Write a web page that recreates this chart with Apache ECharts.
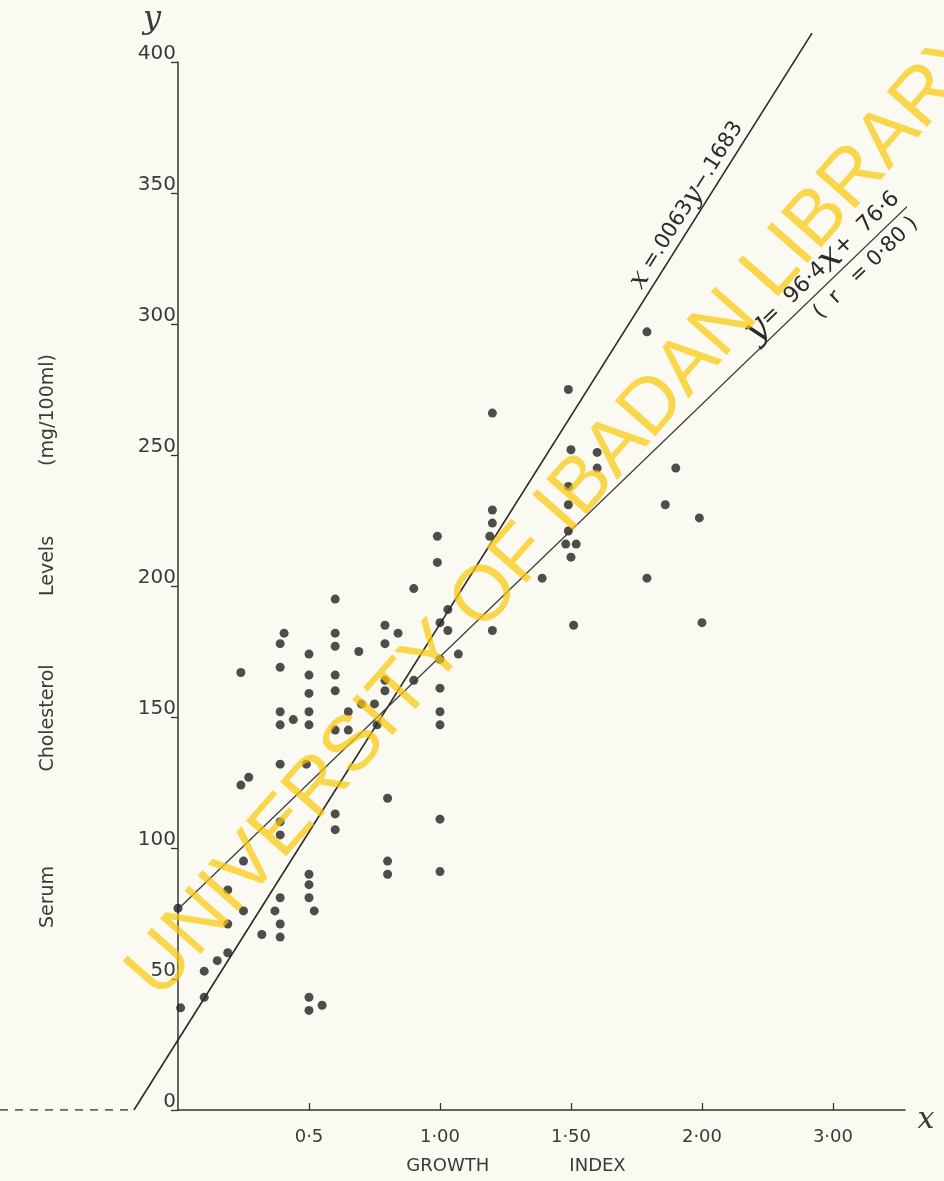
<!DOCTYPE html>
<html>
<head>
<meta charset="utf-8">
<script src="https://cdn.jsdelivr.net/npm/echarts@6/dist/echarts.min.js"></script>
<style>
  html, body {margin: 0; padding: 0; background: #fbfaf2;}
  #chart {width: 944px; height: 1181px;}
</style>
</head>
<body>
<div id="chart"></div>
<script>
// growth index (x) vs serum cholesterol (y)
const points = [
    [0.0, 77], [0.01, 39], [0.1, 53], [0.1, 43], [0.15, 57], [0.19, 60], [0.19, 71], [0.19, 84],
    [0.25, 95], [0.25, 76], [0.24, 124], [0.27, 127], [0.24, 167],
    [0.32, 67], [0.37, 76], [0.39, 81], [0.39, 71], [0.39, 66], [0.39, 105], [0.39, 110],
    [0.39, 132], [0.39, 147], [0.39, 152], [0.39, 169], [0.39, 178], [0.405, 182], [0.44, 149],
    [0.5, 174], [0.5, 166], [0.5, 159], [0.5, 152], [0.5, 147], [0.49, 132], [0.5, 90], [0.5, 86],
    [0.5, 81], [0.52, 76], [0.5, 43], [0.5, 38], [0.55, 40],
    [0.6, 195], [0.6, 182], [0.6, 177], [0.6, 166], [0.6, 160], [0.6, 145], [0.6, 113], [0.6, 107],
    [0.65, 152], [0.65, 145], [0.69, 175], [0.7, 155], [0.75, 155], [0.76, 147],
    [0.79, 185], [0.79, 178], [0.79, 164], [0.79, 160], [0.8, 119], [0.8, 95], [0.8, 90], [0.84, 182],
    [0.9, 199], [0.9, 164],
    [0.99, 219], [0.99, 209], [1.03, 191], [1.0, 186], [1.03, 183], [1.07, 174], [1.0, 172],
    [1.0, 161], [1.0, 152], [1.0, 147], [1.0, 111], [1.0, 91],
    [1.2, 266], [1.2, 229], [1.2, 224], [1.19, 219], [1.2, 183], [1.39, 203],
    [1.49, 275], [1.5, 252], [1.49, 238], [1.49, 231], [1.49, 221], [1.48, 216], [1.52, 216],
    [1.5, 211], [1.51, 185], [1.6, 251], [1.6, 245],
    [1.79, 297], [1.79, 203], [1.86, 231], [1.9, 245], [1.99, 226], [2.0, 186]
];

// y = 96.4x + 76.6  (regression of y on x)
const regYonX = [[0, 76.6], [2.85, 351.3]];
// x = .0063y - .1683  (regression of x on y), split at the y axis
const regXonY = [[0, 26.7], [2.42, 411]];
const regXonYNeg = [[-0.168, 0], [0, 26.7]];
// dashed negative part of the x axis
const negXAxis = [[-0.679, 0], [-0.17, 0]];

const xTickValues = [0.5, 1, 1.5, 2, 2.5];
const xTickText = ['0·5', '1·00', '1·50', '2·00', '3·00'];
const yTickValues = [0, 50, 100, 150, 200, 250, 300, 350, 400];

// y axis title words and where they sit (pixel y of word centre)
const yTitleWords = ['Serum', 'Cholesterol', 'Levels', '(mg/100ml)'];
const yTitleY = [897, 718, 566, 410];

const ink = '#333';
const labelFont = 'DejaVu Sans';
const deg = Math.PI / 180;

let chart = echarts.init(document.getElementById('chart'));

let yTitle = yTitleWords.map((w, i) => {
    return {
        type: 'text', x: 48, y: yTitleY[i], rotation: 90 * deg,
        style: {text: w, fill: '#3a3a3a', font: '19px "DejaVu Sans"', align: 'center', verticalAlign: 'middle'}
    }
});

let option = {
    backgroundColor: '#fbfaf2',
    animation: false,
    grid: [
        {left: 178, right: 39, top: 62, bottom: 71, outerBoundsMode: 'none'},
        // strip left of the y axis, same scale, for the negative x side
        {left: 0, width: 178, top: 62, bottom: 71, outerBoundsMode: 'none'}
    ],
    xAxis: [
        {
            type: 'value',
            gridIndex: 0,
            min: 0,
            max: 2.775,
            splitLine: {show: false},
            axisLine: {lineStyle: {color: ink, width: 1.5}},
            axisTick: {show: true, inside: true, length: 7, customValues: xTickValues, lineStyle: {color: ink, width: 1.3}},
            axisLabel: {
                customValues: xTickValues,
                margin: 18,
                fontSize: 18,
                fontFamily: labelFont,
                color: '#3a3a3a',
                formatter: function (v) {
                    let i = xTickValues.findIndex((t) => Math.abs(t - v) < 1e-6);
                    return i < 0 ? '' : xTickText[i];
                }
            }
        },
        {type: 'value', gridIndex: 1, min: -0.679, max: 0, show: false}
    ],
    yAxis: [
        {
            type: 'value',
            gridIndex: 0,
            min: 0,
            max: 400,
            interval: 50,
            splitLine: {show: false},
            axisLine: {lineStyle: {color: ink, width: 1.5}},
            axisTick: {show: true, length: 7, customValues: yTickValues, lineStyle: {color: ink, width: 1.3}},
            axisLabel: {
                customValues: yTickValues,
                margin: 2,
                fontSize: 20,
                lineHeight: 16,
                fontFamily: labelFont,
                color: '#3a3a3a',
                verticalAlign: 'bottom'
            }
        },
        {type: 'value', gridIndex: 1, min: 0, max: 400, show: false}
    ],
    series: [
        {
            type: 'line',
            xAxisIndex: 1,
            yAxisIndex: 1,
            data: negXAxis,
            showSymbol: false,
            silent: true,
            lineStyle: {color: ink, width: 1.5, type: [8, 7]}
        },
        {
            type: 'line',
            xAxisIndex: 1,
            yAxisIndex: 1,
            data: regXonYNeg,
            showSymbol: false,
            silent: true,
            lineStyle: {color: '#2a2a2a', width: 1.6}
        },
        {
            type: 'line',
            data: regXonY,
            showSymbol: false,
            clip: false,
            silent: true,
            lineStyle: {color: '#2a2a2a', width: 1.6}
        },
        {
            type: 'line',
            data: regYonX,
            showSymbol: false,
            clip: false,
            silent: true,
            lineStyle: {color: '#3a3a3a', width: 1.3}
        },
        {
            type: 'scatter',
            data: points,
            symbol: 'circle',
            symbolSize: 9,
            clip: false,
            itemStyle: {color: '#222'}
        }
    ],
    graphic: yTitle.concat([
        {
            type: 'text', x: 516, y: 1166,
            style: {
                text: 'GROWTH              INDEX',
                fill: '#3a3a3a', font: '18px "DejaVu Sans"', align: 'center', verticalAlign: 'middle'
            }
        },
        {
            type: 'text', x: 152, y: 20,
            style: {text: 'y', fill: '#3a3a3a', font: 'italic 32px "DejaVu Serif"', align: 'center', verticalAlign: 'middle'}
        },
        {
            type: 'text', x: 926, y: 1120,
            style: {text: 'x', fill: '#3a3a3a', font: 'italic 30px "DejaVu Serif"', align: 'center', verticalAlign: 'middle'}
        },
        {
            type: 'text', x: 687, y: 205, rotation: 57.8 * deg,
            style: {
                text: '{v|x} =.0063{v|y}−.1683',
                fill: '#2a2a2a', font: '21px "DejaVu Sans"', align: 'center', verticalAlign: 'middle',
                rich: {v: {font: 'italic 27px "DejaVu Serif"', fill: '#2a2a2a'}}
            }
        },
        {
            type: 'text', x: 823, y: 266, rotation: 44 * deg,
            style: {
                text: '{v|y}=  96·4{v|x}+  76·6',
                fill: '#2a2a2a', font: '22px "DejaVu Sans"', align: 'center', verticalAlign: 'middle',
                rich: {v: {font: 'italic 36px "DejaVu Serif"', fill: '#2a2a2a'}}
            }
        },
        {
            type: 'text', x: 866, y: 268, rotation: 44 * deg,
            style: {
                text: '(  r   = 0·80 )',
                fill: '#2a2a2a', font: '21px "DejaVu Sans"', align: 'center', verticalAlign: 'middle'
            }
        },
        {
            type: 'text', x: 560, y: 512, rotation: 48.7 * deg, z: 100,
            style: {
                text: 'UNIVERSITY OF IBADAN LIBRARY',
                fill: 'rgba(248, 200, 10, 0.72)', font: '78px "Liberation Sans"', align: 'center', verticalAlign: 'middle'
            }
        }
    ])
};

chart.setOption(option);
</script>
</body>
</html>
